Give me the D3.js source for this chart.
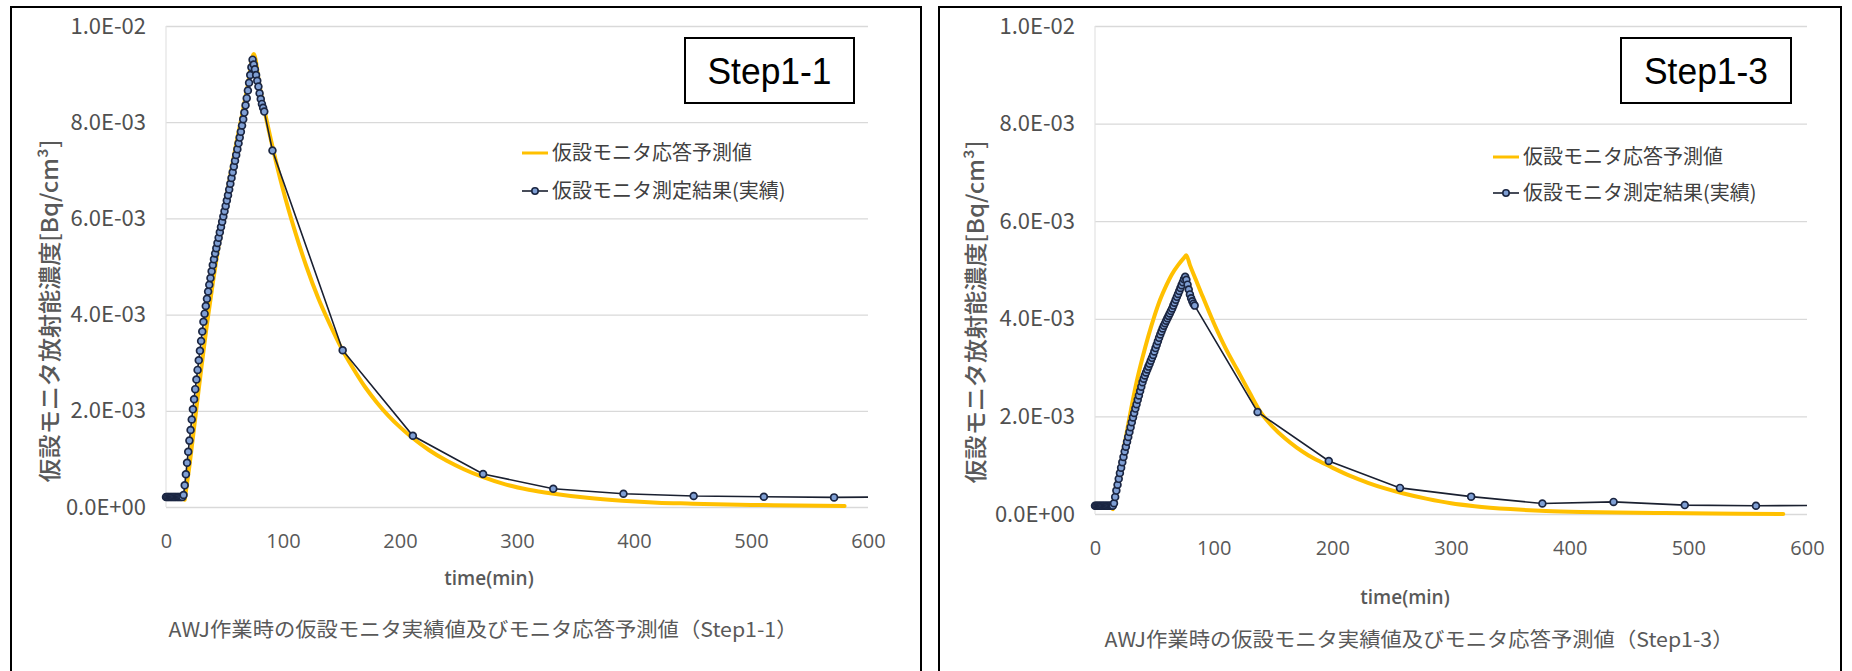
<!DOCTYPE html>
<html>
<head>
<meta charset="utf-8">
<script src="https://cdn.jsdelivr.net/npm/d3@7"></script>
<style>
  body { margin: 0; background: #fff; }
  svg { display: block; }
</style>
</head>
<body>
<svg id="chart" width="1852" height="671"></svg>
<script>
// ---- axes ----
const timeTicks = [0, 100, 200, 300, 400, 500, 600];
const concTicks = [0, 2e-3, 4e-3, 6e-3, 8e-3, 1e-2];
const seriesNames = ["仮設モニタ応答予測値", "仮設モニタ測定結果(実績)"];
const yAxisTitle = "仮設モニタ放射能濃度[Bq/cm³]";
const xAxisTitle = "time(min)";

// ---- Step1-1 : measured (1-min samples, then hourly), values in 1e-3 Bq/cm3 ----
const s11MeasTime = d3.range(0, 85).concat([91, 151, 211, 271, 331, 391, 451, 511, 571, 600]);
const s11MeasConc = [
  0.21, 0.21, 0.21, 0.21, 0.21, 0.21, 0.21, 0.21, 0.21, 0.21, 0.21, 0.21, 0.21, 0.21, 0.21,
  0.25, 0.45, 0.68, 0.92, 1.15, 1.38, 1.60, 1.82, 2.03, 2.24, 2.45, 2.65, 2.85, 3.05, 3.25,
  3.45, 3.65, 3.85, 4.02, 4.18, 4.33, 4.48, 4.62, 4.76, 4.90, 5.03, 5.15, 5.27, 5.38, 5.49,
  5.60, 5.71, 5.82, 5.93, 6.04, 6.15, 6.26, 6.37, 6.48, 6.60, 6.72, 6.84, 6.96, 7.08, 7.20,
  7.32, 7.44, 7.56, 7.68, 7.80, 7.93, 8.06, 8.20, 8.35, 8.50, 8.66, 8.82, 8.98, 9.14, 9.30,
  9.20, 9.10, 8.98, 8.86, 8.74, 8.60, 8.48, 8.38, 8.30, 8.22,
  7.41, 3.26, 1.48, 0.686, 0.38, 0.277, 0.229, 0.214, 0.200, 0.205
];
// ---- Step1-1 : predicted monitor response ----
const s11PredTime = [16, 20, 25, 30, 35, 40, 45, 50, 55, 60, 65, 70, 75, 80, 85, 90, 100, 110, 120, 130, 140,
  150, 160, 170, 180, 190, 200, 210, 225, 240, 255, 270, 290, 310, 330, 360, 390, 420, 450, 480, 510, 540, 580];
const s11PredConc = [0.15, 0.85, 1.85, 2.85, 3.80, 4.65, 5.45, 6.20, 6.90, 7.55, 8.15, 8.78, 9.42, 8.75, 8.15,
  7.60, 6.60, 5.75, 5.00, 4.35, 3.80, 3.30, 2.88, 2.50, 2.18, 1.90, 1.66, 1.45, 1.18, 0.96, 0.78, 0.63, 0.47,
  0.36, 0.28, 0.19, 0.13, 0.09, 0.07, 0.05, 0.04, 0.03, 0.02];

// ---- Step1-3 : measured ----
const s13MeasTime = d3.range(0, 85).concat([137, 197, 257, 317, 377, 437, 497, 557, 600]);
const s13MeasConc = [
  0.17, 0.17, 0.17, 0.17, 0.17, 0.17, 0.17, 0.17, 0.17, 0.17, 0.17, 0.17, 0.17, 0.17, 0.17, 0.17,
  0.22, 0.35, 0.48, 0.60, 0.72, 0.84, 0.95, 1.06, 1.17, 1.28, 1.38, 1.48, 1.58, 1.68, 1.78,
  1.88, 1.98, 2.07, 2.16, 2.25, 2.34, 2.43, 2.52, 2.61, 2.70, 2.77, 2.84, 2.90, 2.96, 3.02,
  3.08, 3.14, 3.20, 3.26, 3.33, 3.40, 3.47, 3.54, 3.61, 3.68, 3.74, 3.80, 3.86, 3.91, 3.96,
  4.01, 4.06, 4.11, 4.16, 4.21, 4.27, 4.33, 4.39, 4.45, 4.51, 4.57, 4.63, 4.69, 4.75, 4.81,
  4.86, 4.80, 4.70, 4.60, 4.50, 4.42, 4.36, 4.31, 4.27,
  2.09, 1.086, 0.535, 0.356, 0.215, 0.248, 0.182, 0.170, 0.175
];
// ---- Step1-3 : predicted monitor response ----
const s13PredTime = [15, 20, 25, 30, 35, 40, 45, 50, 55, 60, 65, 70, 75, 77, 80, 85, 90, 100, 110, 120, 130, 140,
  150, 160, 170, 180, 190, 200, 215, 230, 245, 260, 280, 300, 320, 350, 380, 410, 440, 480, 520, 580];
const s13PredConc = [0.10, 0.75, 1.45, 2.10, 2.70, 3.20, 3.65, 4.05, 4.40, 4.68, 4.92, 5.10, 5.25, 5.30, 5.10,
  4.80, 4.50, 3.92, 3.40, 2.95, 2.50, 2.07, 1.78, 1.55, 1.36, 1.20, 1.07, 0.95, 0.78, 0.64, 0.52, 0.42, 0.31,
  0.22, 0.16, 0.10, 0.06, 0.04, 0.03, 0.02, 0.01, 0.00];

const steps = ["Step1-1", "Step1-3"];
const captions = ["AWJ作業時の仮設モニタ実績値及びモニタ応答予測値（Step1-1）",
                  "AWJ作業時の仮設モニタ実績値及びモニタ応答予測値（Step1-3）"];

const toPoints = (ts, vs) => ts.map((t, i) => ({ t, v: vs[i] * 1e-3 }));

const panels = [
  {
    frame: { x: 11, y: 7, w: 910, h: 680 },
    plot: { left: 166, right: 868, top: 26, bottom: 507 },
    meas: toPoints(s11MeasTime, s11MeasConc),
    pred: toPoints(s11PredTime, s11PredConc),
    step: steps[0], caption: captions[0], stepBox: { x: 685, y: 38, w: 169, h: 65 },
    legend: { x: 522, y1: 153, y2: 191 },
    yTitle: { x: 50, y: 311 },
    xTitle: { x: 489, y: 578 },
    capPos: { x: 483, y: 630 }
  },
  {
    frame: { x: 939, y: 7, w: 902, h: 680 },
    plot: { left: 1095, right: 1807, top: 26, bottom: 514 },
    meas: toPoints(s13MeasTime, s13MeasConc),
    pred: toPoints(s13PredTime, s13PredConc),
    step: steps[1], caption: captions[1], stepBox: { x: 1621, y: 38, w: 170, h: 65 },
    legend: { x: 1493, y1: 157, y2: 193 },
    yTitle: { x: 976, y: 312 },
    xTitle: { x: 1405, y: 597 },
    capPos: { x: 1419, y: 640 }
  }
];

const svg = d3.select("#chart");
const GRID = "#d9d9d9", LABEL = "#595959";
const PRED_COLOR = "#ffc000", MEAS_LINE = "#1a2030", MARK_STROKE = "#1b2642", MARK_FILL = "#7f9fd4";
const fmtExp = v => {
  const [m, e] = v.toExponential(1).split("e");
  const n = +e;
  return m + "E" + (n < 0 ? "-" : "+") + String(Math.abs(n)).padStart(2, "0");
};

panels.forEach(p => {
  const g = svg.append("g");
  const { left, right, top, bottom } = p.plot;

  // outer frame
  g.append("rect").attr("x", p.frame.x).attr("y", p.frame.y)
    .attr("width", p.frame.w).attr("height", p.frame.h)
    .attr("fill", "none").attr("stroke", "#000").attr("stroke-width", 2);

  const x = d3.scaleLinear().domain([0, 600]).range([left, right]);
  const y = d3.scaleLinear().domain([0, 1e-2]).range([bottom, top]);

  // horizontal gridlines + value labels
  const yAxis = g.append("g").attr("transform", `translate(${left},0)`)
    .call(d3.axisLeft(y).tickValues(concTicks).tickFormat(fmtExp)
      .tickSizeInner(-(right - left)).tickSizeOuter(0).tickPadding(20));
  yAxis.select(".domain").remove();
  yAxis.selectAll(".tick line").attr("stroke", GRID).attr("stroke-width", 1.3);
  yAxis.selectAll(".tick text").attr("fill", "#505050")
    .style("font-family", "'Noto Sans CJK JP', sans-serif").style("font-size", "22px");

  // faint vertical axis line
  g.append("line").attr("x1", left).attr("x2", left).attr("y1", top).attr("y2", bottom)
    .attr("stroke", "#e3e3e3").attr("stroke-width", 1.2);

  // time labels
  const xAxis = g.append("g").attr("transform", `translate(0,${bottom})`)
    .call(d3.axisBottom(x).tickValues(timeTicks).tickFormat(d3.format("d"))
      .tickSize(0).tickPadding(27));
  xAxis.select(".domain").remove();
  xAxis.selectAll(".tick text").attr("fill", LABEL)
    .style("font-family", "'Open Sans', sans-serif").style("font-size", "20px");

  // predicted response
  g.append("path").datum(p.pred)
    .attr("d", d3.line().x(d => x(d.t)).y(d => y(d.v)).curve(d3.curveMonotoneX))
    .attr("fill", "none").attr("stroke", PRED_COLOR).attr("stroke-width", 4)
    .attr("stroke-linejoin", "round").attr("stroke-linecap", "round");

  // measured values
  g.append("path").datum(p.meas)
    .attr("d", d3.line().x(d => x(d.t)).y(d => y(d.v)))
    .attr("fill", "none").attr("stroke", MEAS_LINE).attr("stroke-width", 1.6);
  g.append("g").selectAll("circle").data(p.meas.filter(d => d.t < 590)).join("circle")
    .attr("cx", d => x(d.t)).attr("cy", d => y(d.v)).attr("r", 3.4)
    .attr("fill", MARK_FILL).attr("stroke", MARK_STROKE).attr("stroke-width", 1.7);

  // step label
  g.append("rect").attr("x", p.stepBox.x).attr("y", p.stepBox.y)
    .attr("width", p.stepBox.w).attr("height", p.stepBox.h)
    .attr("fill", "#fff").attr("stroke", "#000").attr("stroke-width", 2);
  g.append("text").attr("x", p.stepBox.x + p.stepBox.w / 2).attr("y", p.stepBox.y + p.stepBox.h / 2 + 13)
    .attr("text-anchor", "middle").attr("textLength", 124).attr("lengthAdjust", "spacingAndGlyphs")
    .style("font-family", "'Liberation Sans', sans-serif").style("font-size", "36px").style("font-weight", 400)
    .attr("fill", "#000").text(p.step);

  // legend
  const lg = g.append("g").style("font-family", "'Noto Sans CJK JP', sans-serif").style("font-size", "20px");
  lg.append("line").attr("x1", p.legend.x).attr("x2", p.legend.x + 26)
    .attr("y1", p.legend.y1).attr("y2", p.legend.y1)
    .attr("stroke", PRED_COLOR).attr("stroke-width", 3);
  lg.append("text").attr("x", p.legend.x + 30).attr("y", p.legend.y1).attr("dy", "0.35em")
    .attr("fill", "#404040").text(seriesNames[0]);
  lg.append("line").attr("x1", p.legend.x).attr("x2", p.legend.x + 26)
    .attr("y1", p.legend.y2).attr("y2", p.legend.y2)
    .attr("stroke", MEAS_LINE).attr("stroke-width", 1.6);
  lg.append("circle").attr("cx", p.legend.x + 13).attr("cy", p.legend.y2).attr("r", 3.2)
    .attr("fill", MARK_FILL).attr("stroke", MARK_STROKE).attr("stroke-width", 1.6);
  lg.append("text").attr("x", p.legend.x + 30).attr("y", p.legend.y2).attr("dy", "0.35em")
    .attr("fill", "#404040").text(seriesNames[1]);

  // axis titles
  g.append("text").attr("transform", `translate(${p.yTitle.x},${p.yTitle.y}) rotate(-90)`)
    .attr("text-anchor", "middle").attr("dy", "0.35em")
    .attr("textLength", 343).attr("lengthAdjust", "spacingAndGlyphs")
    .style("font-family", "'Noto Sans CJK JP', sans-serif").style("font-size", "23px").style("font-weight", 500)
    .attr("fill", LABEL).text(yAxisTitle);
  g.append("text").attr("x", p.xTitle.x).attr("y", p.xTitle.y).attr("dy", "0.35em")
    .attr("text-anchor", "middle")
    .style("font-family", "'Open Sans', sans-serif").style("font-size", "19px").style("font-weight", 600)
    .attr("fill", LABEL).text(xAxisTitle);

  // caption
  g.append("text").attr("x", p.capPos.x).attr("y", p.capPos.y).attr("dy", "0.35em")
    .attr("text-anchor", "middle").attr("textLength", 629).attr("lengthAdjust", "spacingAndGlyphs")
    .style("font-family", "'Noto Sans CJK JP', sans-serif").style("font-size", "20.5px")
    .attr("fill", LABEL).text(p.caption);
});
</script>
</body>
</html>
